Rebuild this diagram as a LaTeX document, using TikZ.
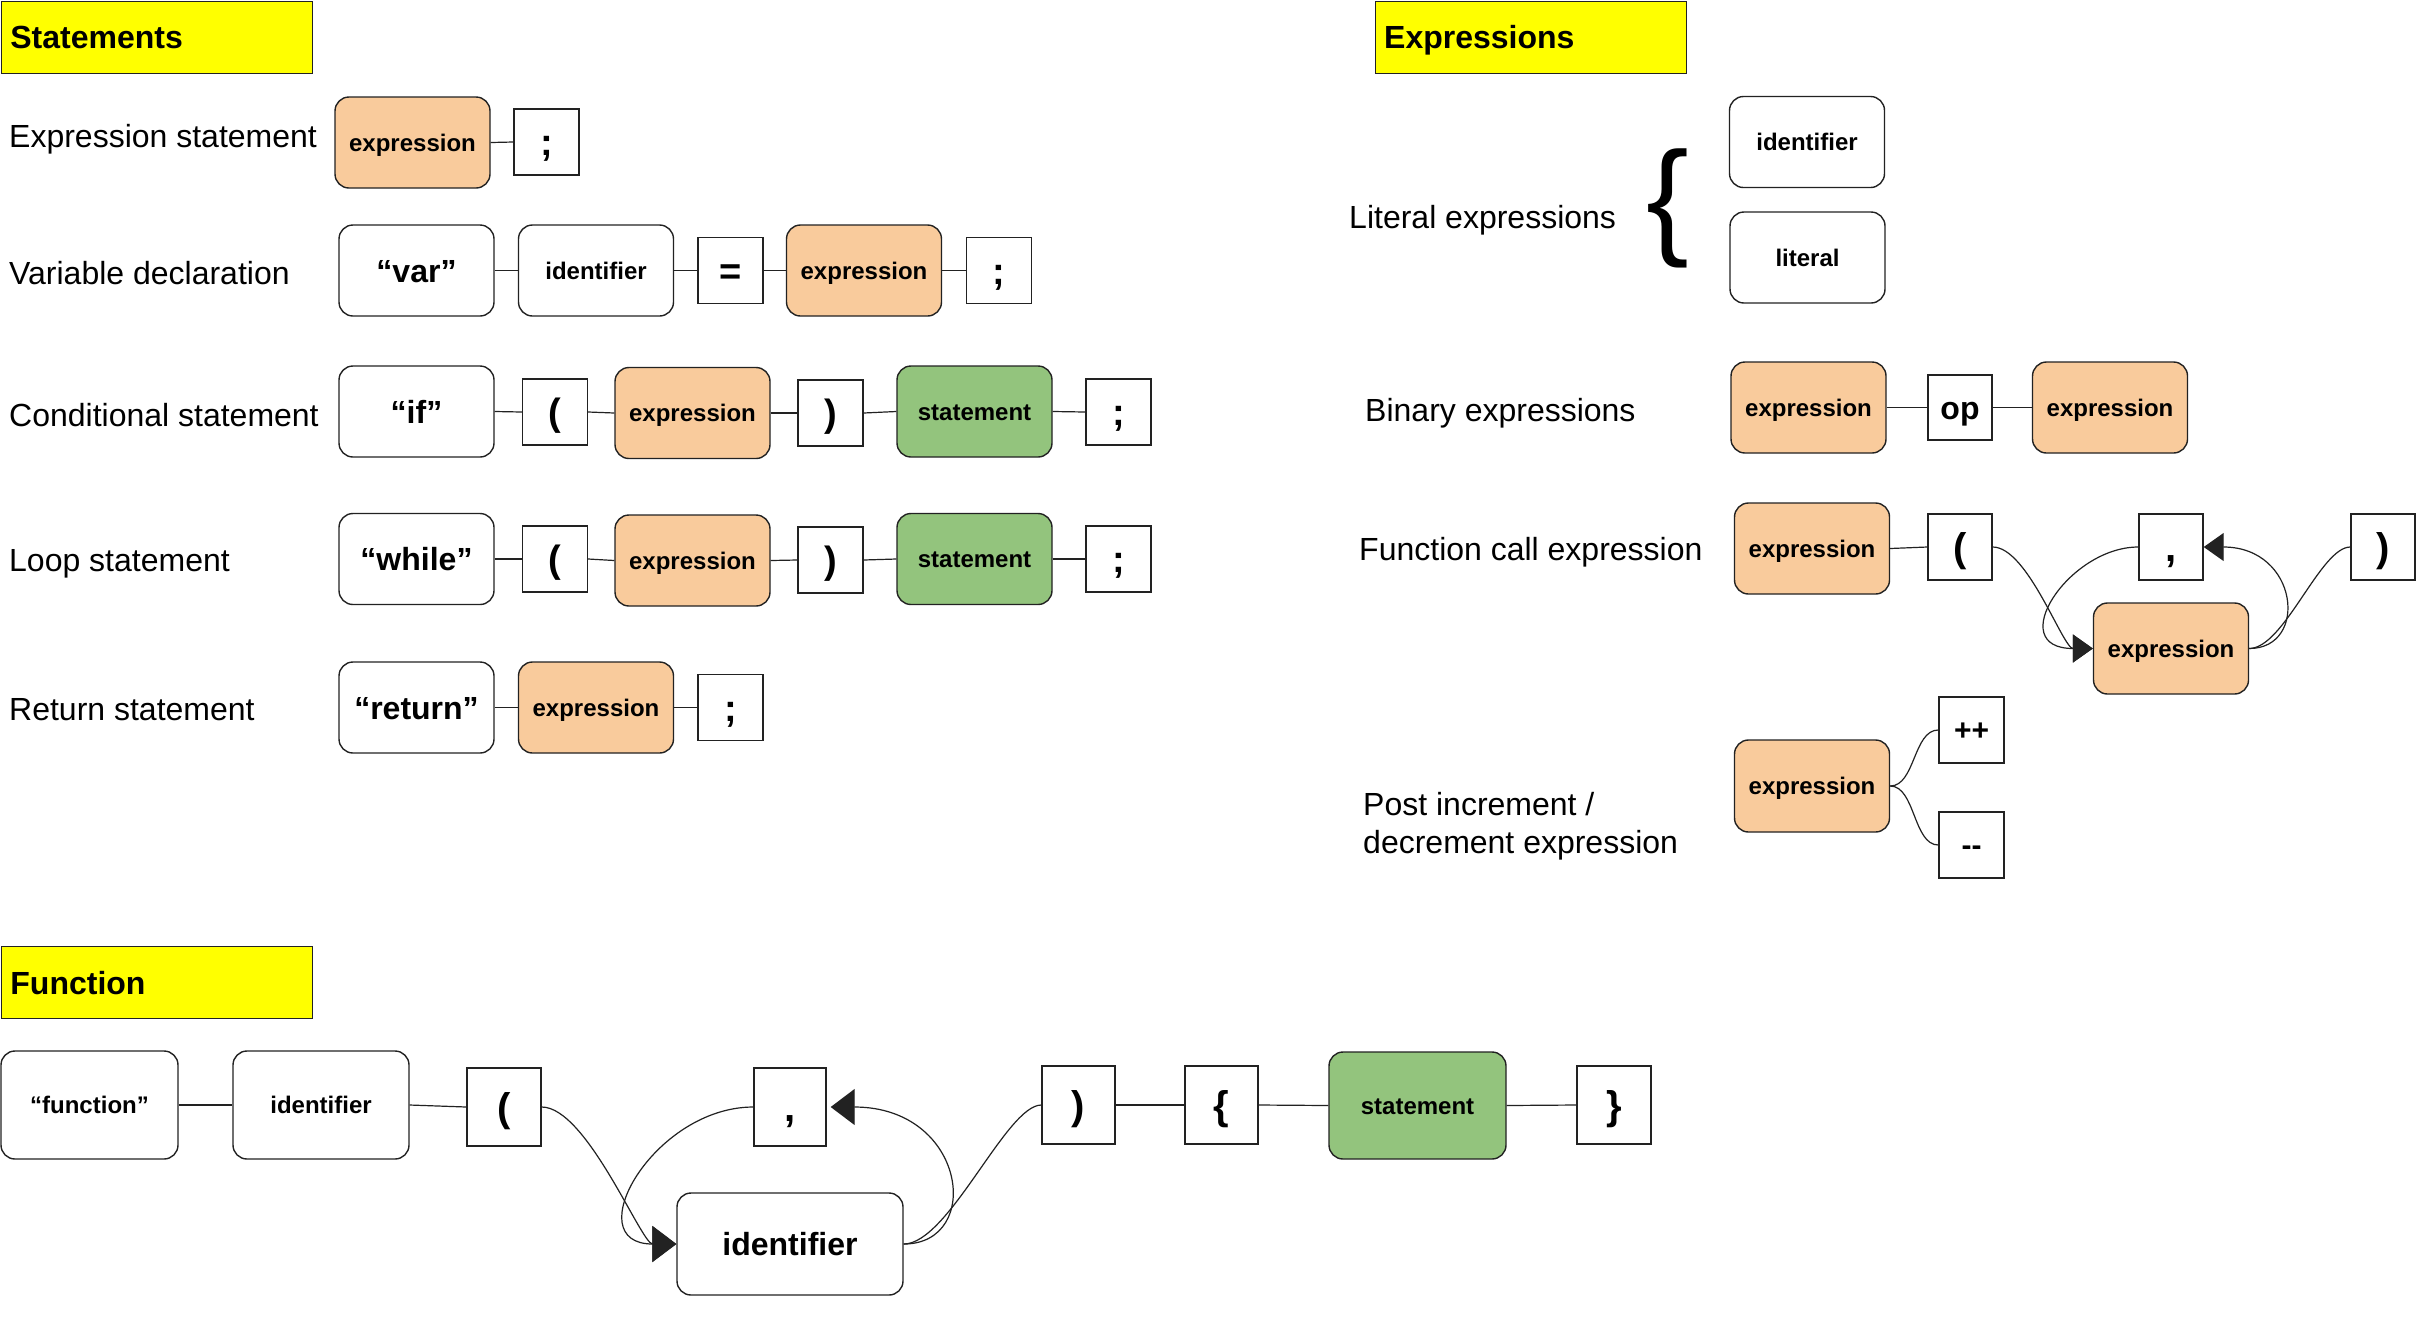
\documentclass[tikz,border=0pt]{standalone}
\usepackage{fontspec}
\setmainfont{Liberation Sans}
\usetikzlibrary{arrows.meta}
\definecolor{orangeF}{HTML}{F9CB9C}
\definecolor{greenF}{HTML}{93C47D}
\definecolor{ttlY}{HTML}{FFFF00}
\definecolor{lineC}{HTML}{222222}
\tikzset{
 box/.style={draw=lineC, line width=1.4pt, inner sep=0pt, align=center, font=\fontsize{24}{28}\selectfont\bfseries},
 rbox/.style={box, fill=white, rounded corners=14pt, minimum width=155pt, minimum height=91pt, text height=17.4pt, text depth=0pt},
 orng/.style={rbox, fill=orangeF},
 grn/.style={rbox, fill=greenF},
 sq/.style={box, fill=white, minimum width=65pt, minimum height=66pt, text height=27.7pt, text depth=0pt, font=\fontsize{38}{40}\selectfont\bfseries},
 sqL/.style={sq, text height=29.2pt, font=\fontsize{40}{42}\selectfont\bfseries},
 fsq/.style={sqL, minimum width=73pt, minimum height=78pt},
 big/.style={text height=23.4pt, font=\fontsize{32}{36}\selectfont\bfseries},
 lab/.style={anchor=west, inner sep=0pt, font=\fontsize{32}{38}\selectfont},
 ttl/.style={draw=lineC, line width=1.4pt, fill=ttlY, anchor=north west, minimum height=72pt, text width=293pt, text height=23pt, text depth=0pt, inner xsep=9pt, inner ysep=0pt, align=left, font=\fontsize{32}{36}\selectfont\bfseries},
 con/.style={draw=lineC, line width=1.2pt},
 arrA/.style={con, -{Triangle[length=24pt,width=36pt]}},
 arrB/.style={con, -{Triangle[length=20pt,width=28pt]}},
}
\begin{document}
\begin{tikzpicture}[x=1pt,y=-1pt]
\useasboundingbox[fill=white] (0,0) rectangle (2424,1318);

% ---------------- Statements ----------------
\node[ttl] (tS) at (0.7,0.7) {Statements};

\node[lab] (l1) at (9,139) {Expression statement};
\node[orng] (a1) at (412.5,142.5) {expression};
\node[sq] (a2) at (546.5,142) {;};
\draw[con] (a1.east) -- (a2.west);

\node[lab] (l2) at (9,273) {Variable declaration};
\node[rbox, big] (b1) at (416.5,270.5) {“var”};
\node[rbox] (b2) at (596,270.5) {identifier};
\node[sq] (b3) at (730.5,270.5) {=};
\node[orng] (b4) at (864,270.5) {expression};
\node[sq] (b5) at (999,270.5) {;};
\draw[con] (b1.east) -- (b2.west);
\draw[con] (b2.east) -- (b3.west);
\draw[con] (b3.east) -- (b4.west);
\draw[con] (b4.east) -- (b5.west);

\node[lab] (l3) at (9,415) {Conditional statement};
\node[rbox, big] (c1) at (416.5,411.5) {“if”};
\node[sq] (c2) at (555,412) {(};
\node[orng] (c3) at (692.5,413) {expression};
\node[sq] (c4) at (830.5,413) {)};
\node[grn] (c5) at (974.5,411.5) {statement};
\node[sq] (c6) at (1118.5,412) {;};
\draw[con] (c1.east) -- (c2.west);
\draw[con] (c2.east) -- (c3.west);
\draw[con] (c3.east) -- (c4.west);
\draw[con] (c4.east) -- (c5.west);
\draw[con] (c5.east) -- (c6.west);

\node[lab] (l4) at (9,564) {Loop statement};
\node[rbox, big] (d1) at (416.5,559) {“while”};
\node[sq] (d2) at (555,559) {(};
\node[orng] (d3) at (692.5,560.5) {expression};
\node[sq] (d4) at (830.5,560) {)};
\node[grn] (d5) at (974.5,559) {statement};
\node[sq] (d6) at (1118.5,559) {;};
\draw[con] (d1.east) -- (d2.west);
\draw[con] (d2.east) -- (d3.west);
\draw[con] (d3.east) -- (d4.west);
\draw[con] (d4.east) -- (d5.west);
\draw[con] (d5.east) -- (d6.west);

\node[lab] (l5) at (9,710) {Return statement};
\node[rbox, big] (e1) at (416.5,707.5) {“return”};
\node[orng] (e2) at (596,707.5) {expression};
\node[sq] (e3) at (730.5,707.5) {;};
\draw[con] (e1.east) -- (e2.west);
\draw[con] (e2.east) -- (e3.west);

% ---------------- Expressions ----------------
\node[ttl] (tE) at (1374.5,0.7) {Expressions};

\node[lab] (l6) at (1349,220) {Literal expressions};
\node[inner sep=0pt, font=\fontsize{128}{130}\selectfont] (br) at (1668,208) {\{};
\node[rbox] (f1) at (1807,142) {identifier};
\node[rbox] (f2) at (1807.5,257.5) {literal};

\node[lab] (l7) at (1365,413) {Binary expressions};
\node[orng] (g1) at (1808.5,407.5) {expression};
\node[sq, minimum width=64pt, minimum height=65pt, text height=23pt, font=\fontsize{32}{36}\selectfont\bfseries] (g2) at (1960,407.5) {op};
\node[orng] (g3) at (2110,407.5) {expression};
\draw[con] (g1.east) -- (g2.west);
\draw[con] (g2.east) -- (g3.west);

\node[lab] (l8) at (1359,552) {Function call expression};
\node[orng] (h1) at (1812,548.5) {expression};
\node[sqL, minimum width=64pt] (h2) at (1960,547) {(};
\node[sqL, minimum width=64pt] (h3) at (2171,547) {,};
\node[sqL, minimum width=64pt] (h4) at (2383,547) {)};
\node[orng] (h5) at (2171,648.5) {expression};
\draw[con] (h1.east) -- (h2.west);
\draw[arrB] (h2.east) to[out=0,in=180,out distance=35pt,in distance=30pt] (h5.west);
\draw[arrB] (h3.west) to[out=180,in=180,out distance=70pt,in distance=90pt] (h5.west);
\draw[arrB] (h5.east) to[out=0,in=0,out distance=60pt,in distance=95pt] (h3.east);
\draw[con] (h5.east) to[out=0,in=180,out distance=35pt,in distance=30pt] (h4.west);

\node[lab, align=left] (l9) at (1363,826) {Post increment /\\decrement expression};
\node[orng, minimum height=92pt] (k1) at (1812,786) {expression};
\node[sq, text height=20pt, font=\fontsize{30}{34}\selectfont\bfseries] (k2) at (1971.5,730) {++};
\node[sq, text height=20pt, font=\fontsize{30}{34}\selectfont\bfseries] (k3) at (1971.5,845) {{-}{-}};
\draw[con] (k1.east) to[out=0,in=180,out distance=25pt,in distance=25pt] (k2.west);
\draw[con] (k1.east) to[out=0,in=180,out distance=25pt,in distance=25pt] (k3.west);

% ---------------- Function ----------------
\node[ttl] (tF) at (0.7,946) {Function};

\node[rbox, minimum width=177pt, minimum height=108pt] (m1) at (89.5,1105) {“function”};
\node[rbox, minimum width=176pt, minimum height=108pt] (m2) at (321,1105) {identifier};
\node[fsq, minimum width=74pt] (m3) at (504,1107) {(};
\node[fsq, minimum width=72pt] (m4) at (790,1107) {,};
\node[fsq] (m5) at (1078.5,1105) {)};
\node[fsq] (m6) at (1221.5,1105) {\{};
\node[grn, minimum width=177pt, minimum height=107pt] (m7) at (1417.5,1105.5) {statement};
\node[fsq, minimum width=74pt] (m8) at (1614,1105) {\}};
\node[rbox, big, minimum width=226pt, minimum height=102pt] (m9) at (790,1244) {identifier};
\draw[con] (m1.east) -- (m2.west);
\draw[con] (m2.east) -- (m3.west);
\draw[con] (m5.east) -- (m6.west);
\draw[con] (m6.east) -- (m7.west);
\draw[con] (m7.east) -- (m8.west);
\draw[arrA] (m3.east) to[out=0,in=180,out distance=45pt,in distance=35pt] (m9.west);
\draw[arrA] (m4.west) to[out=180,in=180,out distance=100pt,in distance=100pt] (m9.west);
\draw[arrA, shorten >=4pt] (m9.east) to[out=0,in=0,out distance=80pt,in distance=140pt] (m4.east);
\draw[con] (m9.east) to[out=0,in=180,out distance=45pt,in distance=35pt] (m5.west);
\end{tikzpicture}
\end{document}
